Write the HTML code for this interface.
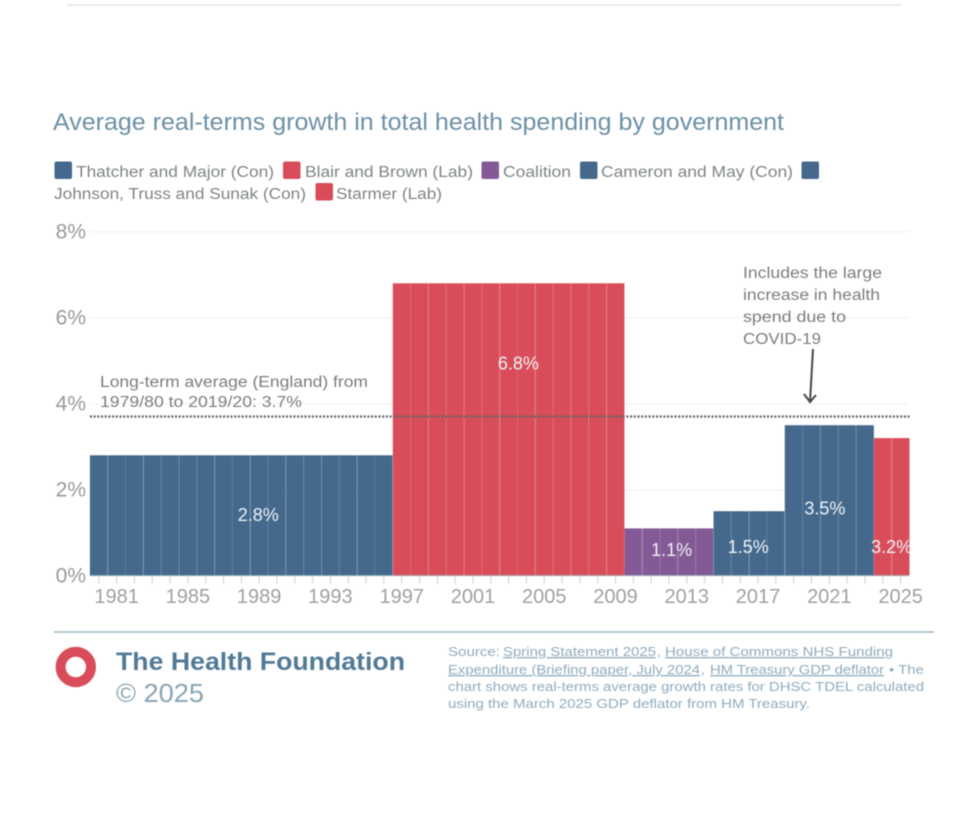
<!DOCTYPE html>
<html lang="en">
<head>
<meta charset="utf-8">
<title>Average real-terms growth in total health spending by government</title>
<style>
html,body{margin:0;padding:0;background:#fff;width:968px;height:814px;overflow:hidden}
svg{display:block;font-family:"Liberation Sans",sans-serif;filter:blur(0.55px)}
.legend-text{font-size:15.5px;fill:#7f8487}
.note{font-size:15.5px;fill:#7c7c7c}
.source{font-size:13px;fill:#8fabbd}
.link{text-decoration:underline}
</style>
</head>
<body>
<svg id="chart" xmlns="http://www.w3.org/2000/svg" width="968" height="814" viewBox="0 0 968 814">
  <line x1="67" y1="5" x2="902" y2="5" stroke="#e4e4e4" stroke-width="1.5"/>
  <text x="53" y="130" font-size="24" fill="#6c90a6" textLength="731" lengthAdjust="spacingAndGlyphs">Average real-terms growth in total health spending by government</text>

  <g>
    <rect x="54.5" y="161.5" width="17.5" height="17.5" rx="2" fill="#44698c"/>
    <text class="legend-text" x="76" y="177" textLength="198" lengthAdjust="spacingAndGlyphs">Thatcher and Major (Con)</text>
    <rect x="283" y="161.5" width="17.5" height="17.5" rx="2" fill="#d94d5a"/>
    <text class="legend-text" x="305" y="177" textLength="168" lengthAdjust="spacingAndGlyphs">Blair and Brown (Lab)</text>
    <rect x="481.5" y="161.5" width="17.5" height="17.5" rx="2" fill="#835a96"/>
    <text class="legend-text" x="503" y="177" textLength="68" lengthAdjust="spacingAndGlyphs">Coalition</text>
    <rect x="580" y="161.5" width="17.5" height="17.5" rx="2" fill="#44698c"/>
    <text class="legend-text" x="601" y="177" textLength="192" lengthAdjust="spacingAndGlyphs">Cameron and May (Con)</text>
    <rect x="801.5" y="161.5" width="17.5" height="17.5" rx="2" fill="#44698c"/>
    <text class="legend-text" x="54" y="199" textLength="252" lengthAdjust="spacingAndGlyphs">Johnson, Truss and Sunak (Con)</text>
    <rect x="315.5" y="183" width="17.5" height="17.5" rx="2" fill="#d94d5a"/>
    <text class="legend-text" x="336" y="199" textLength="106" lengthAdjust="spacingAndGlyphs">Starmer (Lab)</text>
  </g>

  <g id="grid"></g>
  <g id="y-axis"></g>
  <g id="bars"></g>
  <g id="x-axis"></g>
  <g id="average"></g>
  <g id="value-labels"></g>

  <g>
    <text class="note" x="100" y="387" textLength="268" lengthAdjust="spacingAndGlyphs">Long-term average (England) from</text>
    <text class="note" x="100" y="407" textLength="202" lengthAdjust="spacingAndGlyphs">1979/80 to 2019/20: 3.7%</text>
  </g>

  <g>
    <text class="note" x="743" y="278" textLength="139" lengthAdjust="spacingAndGlyphs">Includes the large</text>
    <text class="note" x="743" y="300" textLength="137" lengthAdjust="spacingAndGlyphs">increase in health</text>
    <text class="note" x="743" y="322" textLength="103" lengthAdjust="spacingAndGlyphs">spend due to</text>
    <text class="note" x="743" y="344" textLength="78" lengthAdjust="spacingAndGlyphs">COVID-19</text>
    <path d="M813 349 L810 402 M804 394 L810 402 L816 395" fill="none" stroke="#474747" stroke-width="2"/>
  </g>

  <line x1="54" y1="632" x2="934" y2="632" stroke="#8cabb9" stroke-width="1.3"/>
  <circle cx="75.8" cy="667" r="15.2" fill="none" stroke="#d94d5a" stroke-width="10"/>
  <text x="116" y="670" font-size="25" font-weight="bold" fill="#517a97" textLength="289" lengthAdjust="spacingAndGlyphs">The Health Foundation</text>
  <text x="116" y="702" font-size="26" fill="#8aa4b4" textLength="88" lengthAdjust="spacingAndGlyphs">© 2025</text>

  <g>
    <text class="source" x="448" y="656" textLength="52" lengthAdjust="spacingAndGlyphs">Source:</text>
    <text class="source link" x="503" y="656" textLength="153" lengthAdjust="spacingAndGlyphs">Spring Statement 2025</text>
    <text class="source" x="657" y="656">,</text>
    <text class="source link" x="665" y="656" textLength="228" lengthAdjust="spacingAndGlyphs">House of Commons NHS Funding</text>
    <text class="source link" x="448" y="674" textLength="252" lengthAdjust="spacingAndGlyphs">Expenditure (Briefing paper, July 2024</text>
    <text class="source" x="701" y="674">,</text>
    <text class="source link" x="710" y="674" textLength="174" lengthAdjust="spacingAndGlyphs">HM Treasury GDP deflator</text>
    <text class="source" x="889" y="674" textLength="35" lengthAdjust="spacingAndGlyphs">• The</text>
    <text class="source" x="448" y="691" textLength="476" lengthAdjust="spacingAndGlyphs">chart shows real-terms average growth rates for DHSC TDEL calculated</text>
    <text class="source" x="448" y="708" textLength="362" lengthAdjust="spacingAndGlyphs">using the March 2025 GDP deflator from HM Treasury.</text>
  </g>
</svg>

<script>
// ---- chart data ----
const years = [1980,1981,1982,1983,1984,1985,1986,1987,1988,1989,1990,1991,1992,1993,1994,1995,1996,1997,1998,1999,2000,2001,2002,2003,2004,2005,2006,2007,2008,2009,2010,2011,2012,2013,2014,2015,2016,2017,2018,2019,2020,2021,2022,2023,2024,2025];
const growth = [2.8,2.8,2.8,2.8,2.8,2.8,2.8,2.8,2.8,2.8,2.8,2.8,2.8,2.8,2.8,2.8,2.8,6.8,6.8,6.8,6.8,6.8,6.8,6.8,6.8,6.8,6.8,6.8,6.8,6.8,1.1,1.1,1.1,1.1,1.1,1.5,1.5,1.5,1.5,3.5,3.5,3.5,3.5,3.5,3.2,3.2];
const parties = ["con","con","con","con","con","con","con","con","con","con","con","con","con","con","con","con","con","lab","lab","lab","lab","lab","lab","lab","lab","lab","lab","lab","lab","lab","coalition","coalition","coalition","coalition","coalition","con","con","con","con","con","con","con","con","con","lab","lab"];
const yTickValues = [0,2,4,6,8];
const xLabelYears = [1981,1985,1989,1993,1997,2001,2005,2009,2013,2017,2021,2025];
const printedValues = ["2.8%","6.8%","1.1%","1.5%","3.5%","3.2%"];
const printedValueYears = [1988.95,2003.55,2012.15,2016.45,2020.75,2024.5];
const printedValueLevels = [1.27,4.8,0.46,0.53,1.42,0.53];
const longTermAverage = 3.7;

// ---- axis functions ----
const plotLeft = 89.9, plotRight = 909.5, plotZero = 575.7, pxPerPercent = 43;
const barWidth = (plotRight - plotLeft) / years.length;
const xLeft = function (year) { return plotLeft + (year - years[0]) * barWidth; };
const xMid = function (year) { return xLeft(year) + barWidth / 2; };
const y = function (value) { return plotZero - value * pxPerPercent; };
const partyFill = { con: "#44698c", lab: "#d94d5a", coalition: "#835a96" };
const NS = "http://www.w3.org/2000/svg";

function make(parent, tag, attrs, text) {
  const el = document.createElementNS(NS, tag);
  Object.keys(attrs).forEach(function (k) { el.setAttribute(k, attrs[k]); });
  if (text !== undefined) el.textContent = text;
  parent.appendChild(el);
  return el;
}

// gridlines and y axis labels
const gridGroup = document.getElementById("grid");
const yGroup = document.getElementById("y-axis");
yTickValues.forEach(function (v) {
  if (v > 0) {
    const line = make(gridGroup, "line", { x1: plotLeft, x2: plotRight, y1: y(v), y2: y(v), stroke: "#efefef", "stroke-width": 1 });
    
    
  }
  const label = make(yGroup, "text", { x: 86, y: y(v) + 7, "text-anchor": "end", "font-size": 21, fill: "#999999" }, v + "%");
  
  
});

// bars
const barGroup = document.getElementById("bars");
years.forEach(function (year, i) {
  const bar = make(barGroup, "rect", {
    x: xLeft(year), y: y(growth[i]), width: barWidth, height: plotZero - y(growth[i]),
    fill: partyFill[parties[i]]
  });
  
  
});
years.forEach(function (year, i) {
  if (i === 0) return;
  const shorter = Math.max(y(growth[i]), y(growth[i - 1]));
  const sep = make(barGroup, "line", {
    x1: xLeft(year), x2: xLeft(year), y1: shorter, y2: plotZero,
    stroke: "#ffffff", "stroke-opacity": i % 2 ? 0.24 : 0.1, "stroke-width": 1
  });
  
  
});

// x axis
const xGroup = document.getElementById("x-axis");
const baseLine = make(xGroup, "line", { x1: plotLeft, x2: plotRight, y1: plotZero, y2: plotZero, stroke: "#a9c2d0", "stroke-width": 1 });


years.forEach(function (year) {
  const tick = make(xGroup, "line", { x1: xMid(year), x2: xMid(year), y1: plotZero + 1, y2: plotZero + 8, stroke: "#cfcfcf", "stroke-width": 1 });
  
  
});
xLabelYears.forEach(function (year) {
  const label = make(xGroup, "text", { x: xMid(year), y: 603, "text-anchor": "middle", "font-size": 20, fill: "#a0a0a0" }, String(year));
  
  
});

// long-term average
const avg = make(document.getElementById("average"), "line", {
  x1: plotLeft, x2: plotRight, y1: y(longTermAverage), y2: y(longTermAverage),
  stroke: "#666666", "stroke-width": 2.4, "stroke-dasharray": "2 1.7"
});



// printed values
const clip = make(document.getElementById("value-labels"), "clipPath", { id: "plot-clip" });
make(clip, "rect", { x: plotLeft, y: 200, width: plotRight - plotLeft, height: 400 });
const labelGroup = document.getElementById("value-labels");
printedValues.forEach(function (txt, i) {
  const label = make(labelGroup, "text", {
    x: xMid(printedValueYears[i]), y: y(printedValueLevels[i]), "text-anchor": "middle",
    "font-size": 18, fill: "#eef3f7", "clip-path": "url(#plot-clip)"
  }, txt);
  
  
});
</script>
</body>
</html>
